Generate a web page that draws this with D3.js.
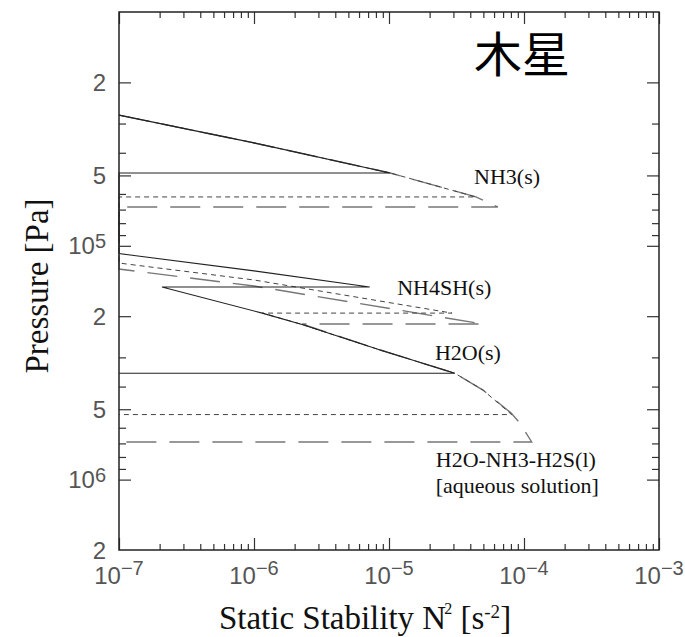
<!DOCTYPE html>
<html>
<head>
<meta charset="utf-8">
<script src="https://cdn.jsdelivr.net/npm/d3@7"></script>
<style>
  body { margin: 0; background: #fff; }
  svg { display: block; }
</style>
</head>
<body>
<svg id="chart" width="685" height="637"></svg>
<script>
// N^2 [s^-2] vs pressure [Pa], three profiles (solid / short dash / long dash)
var solidProfile = [
  [1e-7, 2.76e4], [1e-6, 3.63e4], [1.02e-5, 4.88e4], [1e-7, 4.88e4],
  [1e-7, 1.08e5], [1e-6, 1.28e5], [7.2e-6, 1.50e5], [2.08e-7, 1.50e5],
  [1.15e-6, 1.94e5], [2.27e-6, 2.17e5], [8.6e-6, 2.79e5], [3.08e-5, 3.51e5],
  [1e-7, 3.51e5]
];
var shortDashProfile = [
  [1e-7, 2.76e4], [1e-6, 3.63e4], [1.02e-5, 4.88e4], [4.4e-5, 6.18e4], [1e-7, 6.18e4],
  [1e-7, 1.185e5], [1e-6, 1.40e5], [2.93e-5, 1.94e5], [1.15e-6, 1.94e5],
  [2.27e-6, 2.17e5], [8.6e-6, 2.79e5], [3.08e-5, 3.51e5], [4.97e-5, 4.14e5],
  [8.1e-5, 5.27e5], [1e-7, 5.27e5]
];
var longDashProfile = [
  [1e-7, 2.76e4], [1e-6, 3.63e4], [1.02e-5, 4.88e4], [4.4e-5, 6.18e4], [6.4e-5, 6.82e4],
  [1e-7, 6.82e4], [1e-7, 1.257e5], [1e-6, 1.486e5], [4.97e-5, 2.16e5], [2.27e-6, 2.16e5],
  [8.6e-6, 2.79e5], [3.08e-5, 3.51e5], [4.97e-5, 4.14e5], [8.03e-5, 5.19e5],
  [9.33e-5, 5.73e5], [1.14e-4, 6.90e5], [1e-7, 6.90e5]
];

var xDecades = [1e-7, 1e-6, 1e-5, 1e-4, 1e-3];
var xExponents = ["−7", "−6", "−5", "−4", "−3"];
var yLabelValues = [2e4, 5e4, 1e5, 2e5, 5e5, 1e6, 2e6];
var yLabelBase = ["2", "5", "10", "2", "5", "10", "2"];
var yLabelSup = ["", "", "5", "", "", "6", ""];

var cloudLabels = ["NH3(s)", "NH4SH(s)", "H2O(s)", "H2O-NH3-H2S(l)", "[aqueous solution]"];
var cloudLabelAt = [[4.27e-5, 5.44e4], [1.15e-5, 1.62e5], [2.19e-5, 3.08e5], [2.22e-5, 8.83e5], [2.22e-5, 1.14e6]];

var svg = d3.select("#chart");
var plotLeft = 119, plotRight = 659, plotTop = 12, plotBottom = 550;

var x = d3.scaleLog().domain([1e-7, 1e-3]).range([plotLeft, plotRight]);
var y = d3.scaleLog().domain([1e4, 2e6]).range([plotTop, plotBottom]);

var line = d3.line()
  .x(function(d) { return x(d[0]); })
  .y(function(d) { return y(d[1]); });

// profiles
var series = [
  {data: longDashProfile, color: "#777", width: 1.4, dash: "30,13"},
  {data: shortDashProfile, color: "#444", width: 1, dash: "5,4"},
  {data: solidProfile, color: "#222", width: 1.1, dash: null}
];
svg.selectAll("path.profile")
  .data(series)
  .enter().append("path")
  .attr("class", "profile")
  .attr("d", function(d) { return line(d.data); })
  .attr("fill", "none")
  .attr("stroke", function(d) { return d.color; })
  .attr("stroke-width", function(d) { return d.width; })
  .attr("stroke-dasharray", function(d) { return d.dash; });

// ticks (inward on all four sides)
var isMajorY = function(v) {
  var m = Math.round(v / Math.pow(10, Math.floor(Math.log10(v) + 1e-9)));
  return m === 1 || m === 2 || m === 5;
};
var xMinor = x.ticks().filter(function(v) { return xDecades.indexOf(v) < 0; });
var yAll = y.ticks().filter(function(v) { return v > 1e4 && v < 2e6; });
var yMajor = yAll.filter(isMajorY);
var yMinor = yAll.filter(function(v) { return !isMajorY(v); });

function drawAxis(axis, tx, ty) {
  var g = svg.append("g").attr("transform", "translate(" + tx + "," + ty + ")").call(axis);
  g.select(".domain").remove();
  g.selectAll("line").attr("stroke", "#333").attr("stroke-width", 1.2);
}
drawAxis(d3.axisBottom(x).tickValues(xDecades).tickSize(-12).tickFormat(""), 0, plotBottom);
drawAxis(d3.axisBottom(x).tickValues(xMinor).tickSize(-6).tickFormat(""), 0, plotBottom);
drawAxis(d3.axisTop(x).tickValues(xDecades).tickSize(-12).tickFormat(""), 0, plotTop);
drawAxis(d3.axisTop(x).tickValues(xMinor).tickSize(-6).tickFormat(""), 0, plotTop);
drawAxis(d3.axisLeft(y).tickValues(yMajor).tickSize(-12).tickFormat(""), plotLeft, 0);
drawAxis(d3.axisLeft(y).tickValues(yMinor).tickSize(-7).tickFormat(""), plotLeft, 0);
drawAxis(d3.axisRight(y).tickValues(yMajor).tickSize(-12).tickFormat(""), plotRight, 0);
drawAxis(d3.axisRight(y).tickValues(yMinor).tickSize(-7).tickFormat(""), plotRight, 0);

svg.append("rect")
  .attr("x", plotLeft).attr("y", plotTop)
  .attr("width", plotRight - plotLeft).attr("height", plotBottom - plotTop)
  .attr("fill", "none").attr("stroke", "#222").attr("stroke-width", 1.5);

// tick labels
var xl = svg.selectAll("text.xlab")
  .data(xDecades)
  .enter().append("text")
  .attr("class", "xlab")
  .attr("x", function(d) { return x(d); })
  .attr("y", 584)
  .attr("text-anchor", "middle")
  .style("font-family", "'Liberation Sans', Arial, sans-serif")
  .style("font-size", "24px")
  .attr("fill", "#555");
xl.append("tspan").text("10");
xl.append("tspan").attr("dy", -9).style("font-size", "20px")
  .text(function(d, i) { return xExponents[i]; });

var yl = svg.selectAll("text.ylab")
  .data(yLabelValues)
  .enter().append("text")
  .attr("class", "ylab")
  .attr("x", 106)
  .attr("y", function(d) { return y(d); })
  .attr("dy", "0.36em")
  .attr("text-anchor", "end")
  .style("font-family", "'Liberation Sans', Arial, sans-serif")
  .style("font-size", "24px")
  .attr("fill", "#555");
yl.append("tspan").text(function(d, i) { return yLabelBase[i]; });
yl.append("tspan").attr("dy", -6).style("font-size", "20px")
  .text(function(d, i) { return yLabelSup[i]; });

// cloud labels
svg.selectAll("text.cloud")
  .data(cloudLabels)
  .enter().append("text")
  .attr("class", "cloud")
  .attr("x", function(d, i) { return x(cloudLabelAt[i][0]); })
  .attr("y", function(d, i) { return y(cloudLabelAt[i][1]); })
  .style("font-family", "'Liberation Serif', 'Times New Roman', serif")
  .style("font-size", "22px")
  .attr("fill", "#111")
  .text(function(d) { return d; });

// title
svg.append("text")
  .attr("x", 474).attr("y", 72)
  .style("font-family", "'Noto Sans CJK JP', sans-serif")
  .style("font-size", "48px")
  .attr("fill", "#000")
  .text("木星");

// axis titles
var xt = svg.append("text")
  .attr("x", 365).attr("y", 629)
  .attr("text-anchor", "middle")
  .style("font-family", "'Liberation Serif', 'Times New Roman', serif")
  .style("font-size", "33px")
  .attr("fill", "#111");
xt.append("tspan").text("Static Stability N");
xt.append("tspan").attr("dy", -15).attr("dx", -2).style("font-size", "16px").text("2");
xt.append("tspan").attr("dy", 15).text(" [s");
xt.append("tspan").attr("dy", -11).style("font-size", "19px").text("-2");
xt.append("tspan").attr("dy", 11).text("]");

svg.append("text")
  .attr("transform", "translate(48,286) rotate(-90)")
  .attr("text-anchor", "middle")
  .style("font-family", "'Liberation Serif', 'Times New Roman', serif")
  .style("font-size", "33px")
  .attr("fill", "#111")
  .text("Pressure  [Pa]");
</script>
</body>
</html>
